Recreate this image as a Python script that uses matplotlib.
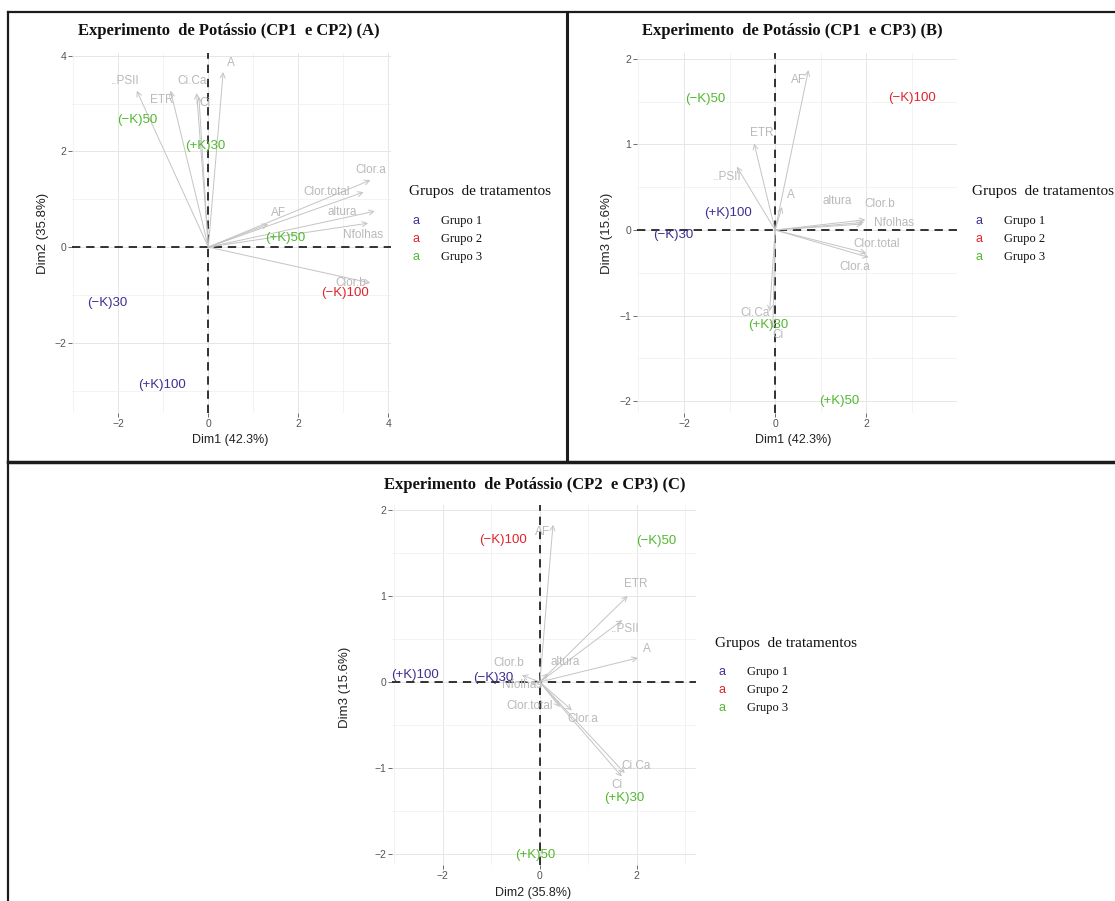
import matplotlib
matplotlib.use("Agg")
import matplotlib.pyplot as plt
from matplotlib.lines import Line2D
from matplotlib.ticker import MultipleLocator

W, H = 1115, 901

# Treatments (individuals) and the group each one belongs to
treatments = ["(−K)30", "(+K)100", "(−K)100", "(−K)50", "(+K)30", "(+K)50"]
treatment_group = [1, 1, 2, 3, 3, 3]

# Individual scores for each biplot
scores_A_dim1 = [-2.25, -1.03, 3.03, -1.57, -0.06, 1.72]
scores_A_dim2 = [-1.16, -2.89, -0.95, 2.66, 2.11, 0.19]
scores_B_dim1 = [-2.24, -1.03, 3.01, -1.54, -0.15, 1.41]
scores_B_dim3 = [-0.06, 0.20, 1.54, 1.53, -1.11, -2.00]
scores_C_dim2 = [-0.97, -2.58, -0.76, 2.39, 1.75, -0.10]
scores_C_dim3 = [0.05, 0.08, 1.65, 1.64, -1.35, -2.01]

# Variables and their (scaled) loadings for each biplot
variables = ["..PSII", "ETR", "Ci.Ca", "Ci", "A", "AF", "altura",
             "Clor.a", "Clor.b", "Clor.total", "Nfolhas"]
load_A_dim1 = [-1.59, -0.84, -0.26, -0.21, 0.33, 1.33, 3.70, 3.60, 3.60, 3.45, 3.55]
load_A_dim2 = [3.27, 3.27, 3.22, 3.14, 3.66, 0.48, 0.75, 1.40, -0.75, 1.15, 0.50]
load_B_dim1 = [-0.84, -0.46, -0.12, -0.05, 0.15, 0.73, 1.95, 2.05, 1.98, 2.00, 1.92]
load_B_dim3 = [0.74, 1.01, -0.95, -1.15, 0.27, 1.87, 0.09, -0.32, 0.12, -0.27, 0.07]
load_C_dim2 = [1.70, 1.81, 1.75, 1.69, 2.02, 0.27, 0.17, 0.66, -0.37, 0.41, -0.20]
load_C_dim3 = [0.72, 1.00, -1.06, -1.10, 0.28, 1.83, 0.10, -0.33, 0.08, -0.29, -0.02]

group_labels = ["Grupo 1", "Grupo 2", "Grupo 3"]
group_colors = {1: "#3f2f92", 2: "#e1232b", 3: "#52b82e"}

VAR_COLOR = "#c4c4c4"
VAR_TEXT = "#b9b9b9"
SANS = ["Liberation Sans", "DejaVu Sans"]
SERIF = ["Liberation Serif", "DejaVu Serif"]

# label offsets (pixels) of the variable names from the arrow tips
label_offsets = {
    "A": {"..PSII": (-12, 10), "ETR": (-9, -9), "Ci.Ca": (-5, 12), "Ci": (6, -6),
          "A": (8, 9), "AF": (10, 11), "altura": (-33, -1), "Clor.a": (0, 10),
          "Clor.b": (-20, 0), "Clor.total": (-37, 0), "Nfolhas": (-5, -12)},
    "B": {"..PSII": (-10, -10), "ETR": (8, 11), "Ci.Ca": (-15, -2), "Ci": (5, -7),
          "A": (9, 12), "AF": (-10, -10), "altura": (-27, 21), "Clor.a": (-14, -10),
          "Clor.b": (14, 16), "Clor.total": (10, 9), "Nfolhas": (31, 1)},
    "C": {"..PSII": (3, -9), "ETR": (8, 12), "Ci.Ca": (11, 7), "Ci": (-5, -8),
          "A": (9, 9), "AF": (-10, -7), "altura": (17, 11), "Clor.a": (11, -9),
          "Clor.b": (-13, 12), "Clor.total": (-30, 1), "Nfolhas": (-8, -1)},
}

fig = plt.figure(figsize=(W / 100, H / 100), dpi=100)
fig.patch.set_facecolor("white")


def px_box(l, t, r, b):
    return [l / W, 1 - b / H, (r - l) / W, (b - t) / H]


def fx(x):
    return x / W


def fy(y):
    return 1 - y / H


def biplot(key, box, xlim, ylim, xs, ys, lx, ly, title, title_xy, xlabel,
           xlabel_xy, ylabel, ylabel_xy, legend_xy):
    ax = fig.add_axes(px_box(*box))
    ax.set_xlim(*xlim)
    ax.set_ylim(*ylim)
    for s in ax.spines.values():
        s.set_visible(False)
    ax.xaxis.set_major_locator(MultipleLocator(2))
    ax.yaxis.set_major_locator(MultipleLocator(2 if key == "A" else 1))
    ax.xaxis.set_minor_locator(MultipleLocator(1))
    ax.yaxis.set_minor_locator(MultipleLocator(1 if key == "A" else 0.5))
    ax.grid(True, which="major", color="#e6e6e6", lw=0.7)
    ax.grid(True, which="minor", color="#f1f1f1", lw=0.6)
    ax.set_axisbelow(True)
    ax.tick_params(which="major", length=3, width=0.6, color="#555555",
                   labelcolor="#555555", labelsize=7.5, pad=1)
    ax.tick_params(which="minor", length=0)
    for lab in ax.get_xticklabels() + ax.get_yticklabels():
        lab.set_family(SANS)

    ax.axhline(0, color="#111111", lw=1.2, ls=(0, (5, 3.5)), zorder=2)
    ax.axvline(0, color="#111111", lw=1.2, ls=(0, (5, 3.5)), zorder=2)

    offs = label_offsets[key]
    for name, vx, vy in zip(variables, lx, ly):
        ax.annotate("", xy=(vx, vy), xytext=(0, 0),
                    arrowprops=dict(arrowstyle="->,head_length=0.35,head_width=0.18",
                                    color=VAR_COLOR, lw=0.7, shrinkA=0, shrinkB=0),
                    zorder=3)
        ox, oy = offs[name]
        ax.annotate(name, xy=(vx, vy), xytext=(ox, oy), textcoords="offset pixels",
                    ha="center", va="center", fontsize=8.5, color=VAR_TEXT,
                    family=SANS, zorder=4)

    for name, g, px, py in zip(treatments, treatment_group, xs, ys):
        ax.text(px, py, name, ha="center", va="center", fontsize=9.5,
                color=group_colors[g], family=SANS, zorder=5)

    fig.text(fx(title_xy[0]), fy(title_xy[1]), title, ha="center", va="center",
             fontsize=12, fontweight="bold", family=SERIF, color="#111111")
    fig.text(fx(xlabel_xy[0]), fy(xlabel_xy[1]), xlabel, ha="center", va="center",
             fontsize=9, family=SANS, color="#222222")
    fig.text(fx(ylabel_xy[0]), fy(ylabel_xy[1]), ylabel, ha="center", va="center",
             fontsize=9.5, family=SANS, color="#222222", rotation=90)

    lx0, ly0 = legend_xy
    fig.text(fx(lx0), fy(ly0), "Grupos  de tratamentos", ha="left", va="center",
             fontsize=11, family=SERIF, color="#111111")
    for i, lab in enumerate(group_labels):
        yy = ly0 + 29 + i * 18
        fig.text(fx(lx0 + 7), fy(yy), "a", ha="center", va="center", fontsize=9,
                 family=SANS, color=group_colors[i + 1])
        fig.text(fx(lx0 + 32), fy(yy), lab, ha="left", va="center", fontsize=9,
                 family=SERIF, color="#111111")
    return ax


biplot("A", (72, 53, 391, 413), (-3.03, 4.06), (-3.47, 4.06),
       scores_A_dim1, scores_A_dim2, load_A_dim1, load_A_dim2,
       "Experimento  de Potássio (CP1  e CP2) (A)", (229, 31),
       "Dim1 (42.3%)", (230, 440), "Dim2 (35.8%)", (43, 233), (409, 192))

biplot("B", (637, 53, 957, 413), (-3.03, 3.99), (-2.14, 2.07),
       scores_B_dim1, scores_B_dim3, load_B_dim1, load_B_dim3,
       "Experimento  de Potássio (CP1  e CP3) (B)", (792, 31),
       "Dim1 (42.3%)", (793, 440), "Dim3 (15.6%)", (607, 233), (972, 192))

biplot("C", (392, 505, 696, 865), (-3.05, 3.22), (-2.13, 2.06),
       scores_C_dim2, scores_C_dim3, load_C_dim2, load_C_dim3,
       "Experimento  de Potássio (CP2  e CP3) (C)", (535, 485),
       "Dim2 (35.8%)", (533, 893), "Dim3 (15.6%)", (345, 687), (715, 643))

# frame lines separating the three panels
frame = [((8, 12), (W, 12), 1.6),
         ((8, 12), (8, H), 1.6),
         ((566.5, 12), (566.5, 461), 2.2),
         ((8, 461.5), (W, 461.5), 2.5)]
for (x0, y0), (x1, y1), lw in frame:
    fig.add_artist(Line2D([fx(x0), fx(x1)], [fy(y0), fy(y1)],
                          transform=fig.transFigure, color="#1c1c1c", lw=lw))

fig.savefig("out.png", dpi=100, facecolor="white")
